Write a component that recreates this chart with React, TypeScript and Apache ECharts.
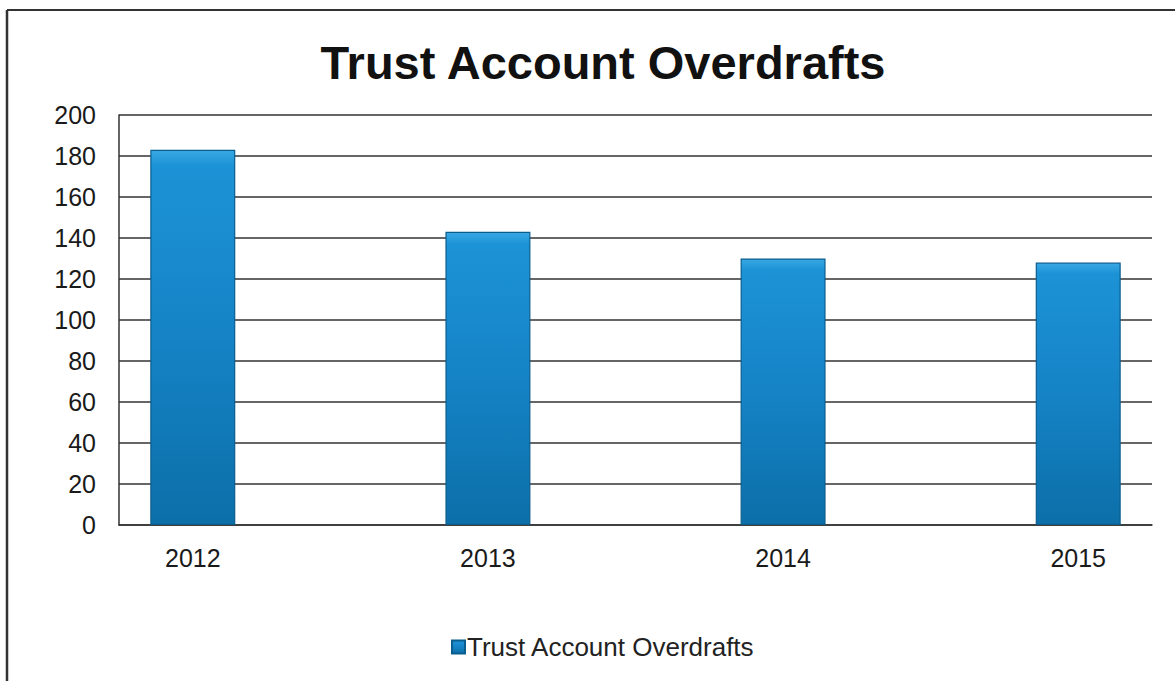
import React, { useEffect, useRef } from "react";
import * as echarts from "echarts";

const categories = ["2012", "2013", "2014", "2015"];
const overdrafts = [183, 143, 130, 128];
const seriesName = "Trust Account Overdrafts";
const chartTitle = "Trust Account Overdrafts";

const FONT = "'Liberation Sans', Arial, Helvetica, sans-serif";

export default function App() {
  const ref = useRef<HTMLDivElement>(null);

  useEffect(() => {
    if (!ref.current) return;
    const chart = echarts.init(ref.current, undefined, { renderer: "svg" });
    const barColor = new echarts.graphic.LinearGradient(0, 0, 0, 1, [
      { offset: 0, color: "#3aa8e4" },
      { offset: 0.04, color: "#1c93d6" },
      { offset: 0.5, color: "#1583c6" },
      { offset: 1, color: "#0c6fa8" },
    ]);
    chart.setOption({
      animation: false,
      backgroundColor: "#ffffff",
      title: {
        text: chartTitle,
        left: 598,
        top: 34,
        textAlign: "center",
        textStyle: { fontFamily: FONT, fontSize: 47, fontWeight: "bold", color: "#111111" },
      },
      legend: {
        data: [seriesName],
        left: 446,
        top: 629,
        itemWidth: 13,
        itemHeight: 13,
        itemGap: 5,
        icon: "rect",
        textStyle: { fontFamily: FONT, fontSize: 26, color: "#222222", padding: [0, 0, 0, -3] },
      },
      grid: { left: 119, right: 23, top: 115, bottom: 156 },
      xAxis: {
        type: "value",
        min: -0.25,
        max: 3.25,
        axisLine: { show: true, onZero: false, lineStyle: { color: "#333333", width: 1.5 } },
        axisTick: { show: false },
        splitLine: { show: false },
        axisLabel: {
          customValues: [0, 1, 2, 3],
          formatter: (v: number) => categories[Math.round(v)] ?? "",
          margin: 20,
          fontFamily: FONT,
          fontSize: 25,
          color: "#1a1a1a",
        },
      },
      yAxis: {
        type: "value",
        min: 0,
        max: 200,
        interval: 20,
        axisLine: { show: true, onZero: false, lineStyle: { color: "#333333", width: 1.5 } },
        axisTick: { show: false },
        splitLine: { show: true, lineStyle: { color: "#333333", width: 1.5 } },
        axisLabel: {
          margin: 23,
          fontFamily: FONT,
          fontSize: 25,
          color: "#1a1a1a",
        },
      },
      series: [
        {
          name: seriesName,
          type: "bar",
          barWidth: 85,
          data: overdrafts.map((v, i) => [i, v]),
          itemStyle: { color: barColor, borderColor: "#0b5d8e", borderWidth: 1.2 },
        },
      ],
      graphic: [
        {
          type: "line",
          shape: { x1: 7, y1: 10, x2: 1175, y2: 10 },
          style: { stroke: "#333333", lineWidth: 2 },
        },
        {
          type: "line",
          shape: { x1: 7, y1: 10, x2: 7, y2: 681 },
          style: { stroke: "#333333", lineWidth: 2.5 },
        },
      ],
    });
    return () => chart.dispose();
  }, []);

  return (
    <div
      ref={ref}
      style={{ position: "fixed", left: 0, top: 0, width: 1175, height: 681 }}
    />
  );
}
